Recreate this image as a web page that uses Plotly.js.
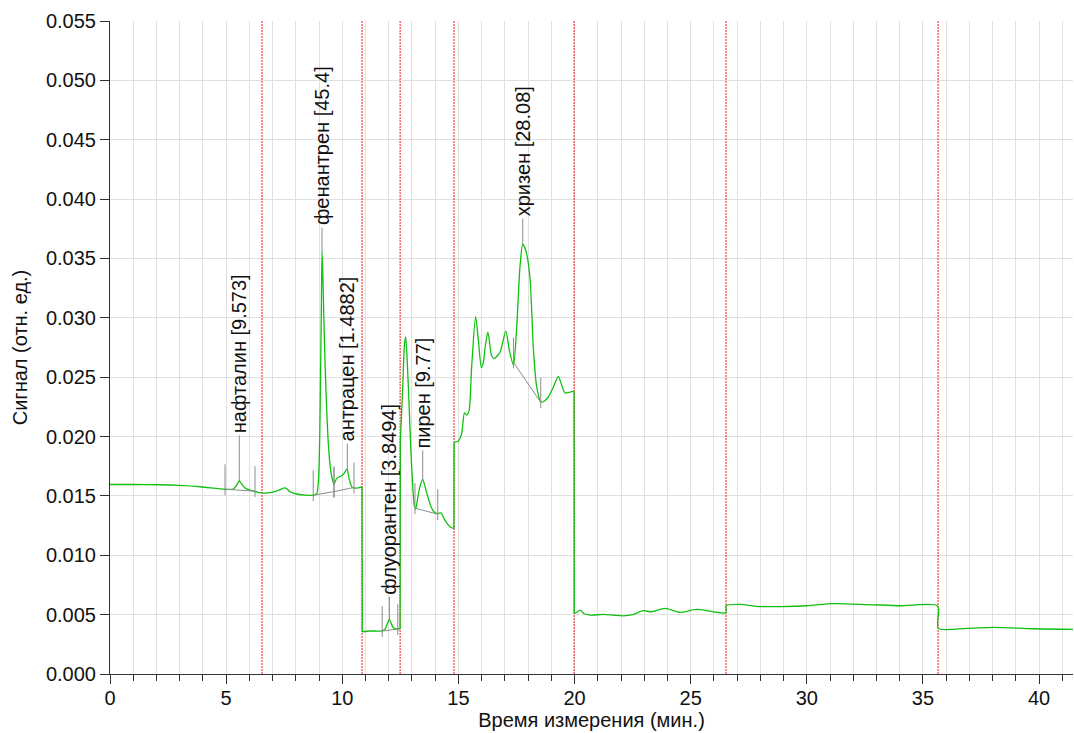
<!DOCTYPE html>
<html>
<head>
<meta charset="utf-8">
<script src="https://cdn.plot.ly/plotly-3.0.1.min.js"></script>
<style>
  html, body { margin: 0; padding: 0; background: #fff; }
  #chart { width: 1074px; height: 733px; }
</style>
</head>
<body>
<div id="chart"></div>
<script>
// ---- Signal trace (time in minutes, signal in relative units) ----
const time = [
  0, 1.0, 2.15, 3.0, 3.88, 4.95, 5.3, 5.45, 5.56, 5.65, 5.8, 6.03, 6.3, 6.54, 6.89, 7.23, 7.5, 7.6, 7.75, 8.09, 8.75,
  8.9, 8.98, 9.03, 9.07, 9.1, 9.13, 9.17, 9.26, 9.4, 9.5, 9.62, 9.645, 9.77, 9.95, 10.08, 10.2, 10.29, 10.42, 10.59, 10.85,
  10.86, 11.2, 11.72, 11.85, 11.95, 12.03, 12.1, 12.2, 12.39, 12.49,
  12.5, 12.6, 12.68, 12.73, 12.8, 12.88, 12.95, 13.02, 13.1, 13.16, 13.23, 13.32, 13.46, 13.56, 13.66, 13.8, 13.95, 14.11, 14.25, 14.42, 14.64, 14.81,
  14.815, 15.0, 15.14, 15.26, 15.36, 15.46, 15.57, 15.74, 15.86, 15.99, 16.07, 16.15, 16.27, 16.43, 16.53, 16.79, 17.04, 17.2, 17.37, 17.51, 17.65, 17.77, 17.91, 18.08, 18.23, 18.37, 18.545, 18.7, 18.87, 19.09, 19.3, 19.45, 19.59, 19.81, 19.98,
  19.99, 20.1, 20.24, 20.4, 20.67, 21.24, 21.7, 22.1, 22.5, 22.96, 23.32, 23.9, 24.54, 25.26, 25.98, 26.52,
  26.53, 27.13, 27.99, 28.99, 30.0, 31.14, 32.58, 34.01, 35.64,
  35.66, 36.89, 38.03, 39.75, 41.46
];
const signal = [
  0.01596, 0.01596, 0.01594, 0.01588, 0.01577, 0.01556, 0.01557, 0.0159, 0.01626, 0.01605, 0.01568, 0.01548, 0.01535, 0.01525, 0.01527, 0.01544, 0.01567, 0.01562, 0.01535, 0.01514, 0.01506,
  0.0152, 0.0165, 0.0200, 0.0260, 0.0310, 0.0356, 0.0330, 0.0261, 0.0194, 0.0172, 0.0161, 0.0160, 0.0165, 0.01666, 0.0169, 0.01725, 0.0165, 0.01573, 0.01565, 0.01577,
  0.00356, 0.00362, 0.00364, 0.0038, 0.0043, 0.0046, 0.0043, 0.0039, 0.00379, 0.0038,
  0.0196, 0.0240, 0.0278, 0.0284, 0.0262, 0.0225, 0.0190, 0.0163, 0.0142, 0.0139, 0.0146, 0.0156, 0.0164, 0.0158, 0.0151, 0.0142, 0.01365, 0.01352, 0.01357, 0.01296, 0.01239, 0.01226,
  0.0195, 0.01963, 0.02025, 0.0220, 0.0218, 0.0222, 0.02585, 0.0301, 0.0281, 0.0258, 0.0262, 0.0275, 0.0288, 0.0268, 0.02656, 0.0271, 0.02888, 0.0272, 0.0260, 0.02922, 0.03427, 0.0362, 0.0356, 0.0334, 0.0273, 0.0242, 0.0229, 0.0230, 0.02333, 0.02417, 0.02507, 0.02431, 0.02367, 0.02375, 0.0238,
  0.0051, 0.0052, 0.00538, 0.0051, 0.00496, 0.00502, 0.00495, 0.0049, 0.0050, 0.00533, 0.00524, 0.00553, 0.00519, 0.00544, 0.00524, 0.00516,
  0.00575, 0.00586, 0.00568, 0.00568, 0.00575, 0.00592, 0.00585, 0.00575, 0.00572,
  0.00384, 0.00384, 0.00393, 0.00381, 0.00376
];

// ---- Segment switch times (red dotted lines) ----
const switchTimes = [6.545, 10.85, 12.49, 14.81, 19.98, 26.52, 35.65];

// ---- Identified peaks ----
const peakNames   = ["нафталин", "фенантрен", "антрацен", "флуорантен", "пирен", "хризен"];
const peakValues  = ["9.573", "45.4", "1.4882", "3.8494", "9.77", "28.08"];
const apexTime    = [5.567, 9.128, 10.217, 12.03, 13.464, 17.77];
const apexSignal  = [0.01626, 0.0356, 0.01725, 0.0046, 0.0164, 0.0362];
const startTime   = [4.952, 8.75, 9.645, 11.72, 13.13, 17.37];
const startSignal = [0.01556, 0.01506, 0.01537, 0.00362, 0.01397, 0.02625];
const endTime     = [6.243, 9.645, 10.506, 12.39, 14.11, 18.545];
const endSignal   = [0.0154, 0.01537, 0.01571, 0.00379, 0.01346, 0.02288];
const labelSignal = [0.0201, 0.0376, 0.0194, 0.0065, 0.01884, 0.03836];

// ---- Axis ticks ----
const xTickStep = 5;
const xMinorStep = 1;
const yTickStep = 0.005;
const xRange = [0, 41.46];
const yRange = [0, 0.055];

const FONT = '"Liberation Sans", Arial, sans-serif';
const grey = '#8c8c8c';

// split the signal into continuous segments at the instrument switch jumps
const segments = [];
let cur = {x: [], y: []};
for (let i = 0; i < time.length; i++) {
  if (i > 0 && (time[i] - time[i - 1]) < 0.016 && Math.abs(signal[i] - signal[i - 1]) > 0.003) {
    segments.push(cur);
    cur = {x: [], y: []};
  }
  cur.x.push(time[i]); cur.y.push(signal[i]);
}
segments.push(cur);

// red switch lines (drawn as a trace so they sit above grid, below the signal)
const rx = [], ry = [];
switchTimes.forEach(t => { rx.push(t, t, null); ry.push(yRange[0], yRange[1], null); });
const traces = [{
  x: rx, y: ry, type: 'scatter', mode: 'lines',
  line: {color: 'rgba(255,0,0,0.9)', width: 1, dash: '2px,1px'}, hoverinfo: 'skip'
}];

// vertical jumps between segments
const jx = [], jy = [];
for (let s = 1; s < segments.length; s++) {
  const a = segments[s - 1], b = segments[s];
  jx.push(a.x[a.x.length - 1], b.x[0], null);
  jy.push(a.y[a.y.length - 1], b.y[0], null);
}
segments.forEach(seg => traces.push({
  x: seg.x, y: seg.y, type: 'scatter', mode: 'lines',
  line: {color: '#10c010', width: 1.3, shape: 'spline', smoothing: 0.7}, hoverinfo: 'skip'
}));
traces.push({x: jx, y: jy, type: 'scatter', mode: 'lines',
  line: {color: '#10c010', width: 1.3}, hoverinfo: 'skip'});

const shapes = [];
const markUp = 0.0021, markDown = 0.0005;
peakNames.forEach((n, i) => {
  shapes.push({type: 'line', xref: 'x', yref: 'y', x0: startTime[i], x1: startTime[i],
    y0: startSignal[i] - markDown, y1: startSignal[i] + markUp, line: {color: grey, width: 1}});
  shapes.push({type: 'line', xref: 'x', yref: 'y', x0: endTime[i], x1: endTime[i],
    y0: endSignal[i] - markDown, y1: endSignal[i] + markUp, line: {color: grey, width: 1}});
  shapes.push({type: 'line', xref: 'x', yref: 'y', x0: startTime[i], x1: endTime[i],
    y0: startSignal[i], y1: endSignal[i], line: {color: grey, width: 1}});
  shapes.push({type: 'line', xref: 'x', yref: 'y', x0: apexTime[i], x1: apexTime[i],
    y0: apexSignal[i], y1: labelSignal[i], line: {color: grey, width: 1}});
});

const annotations = peakNames.map((n, i) => ({
  x: apexTime[i], y: labelSignal[i], xref: 'x', yref: 'y',
  text: n + ' [' + peakValues[i] + ']', showarrow: false, textangle: -90,
  xanchor: 'center', yanchor: 'bottom',
  font: {family: FONT, size: 20, color: '#111'}
}));

const layout = {
  width: 1074, height: 733,
  margin: {l: 110, r: 1, t: 21, b: 59},
  paper_bgcolor: '#ffffff', plot_bgcolor: '#ffffff',
  showlegend: false,
  font: {family: FONT, size: 20, color: '#111'},
  xaxis: {
    range: xRange, tick0: 0, dtick: xTickStep, ticks: 'outside', ticklen: 9, tickwidth: 1,
    tickcolor: '#333', showline: true, linecolor: '#333', linewidth: 1,
    showgrid: true, gridcolor: '#e0e0e0', gridwidth: 1, zeroline: false,
    tickfont: {family: FONT, size: 20, color: '#111'}, ticklabelstandoff: -3,
    minor: {dtick: xMinorStep, ticks: 'outside', ticklen: 6, tickcolor: '#333', showgrid: true, gridcolor: '#e0e0e0', gridwidth: 1},
    title: {text: 'Время измерения (мин.)', font: {family: FONT, size: 20, color: '#111'}, standoff: 2}
  },
  yaxis: {
    range: yRange, tick0: 0, dtick: yTickStep, tickformat: '.3f', ticks: 'outside', ticklen: 9, tickwidth: 1,
    tickcolor: '#333', showline: true, linecolor: '#333', linewidth: 1,
    showgrid: true, gridcolor: '#e0e0e0', gridwidth: 1, zeroline: false,
    tickfont: {family: FONT, size: 20, color: '#111'},
    title: {text: 'Сигнал (отн. ед.)', font: {family: FONT, size: 20, color: '#111'}, standoff: 12}
  },
  shapes: shapes,
  annotations: annotations
};

Plotly.newPlot('chart', traces, layout, {displayModeBar: false, staticPlot: true});
</script>
</body>
</html>
